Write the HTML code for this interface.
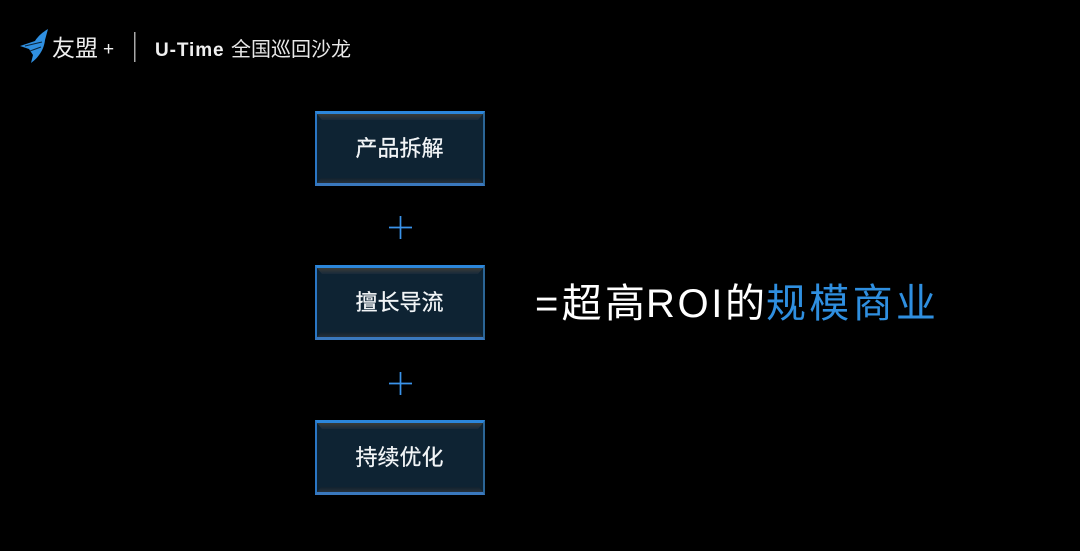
<!DOCTYPE html>
<html><head><meta charset="utf-8">
<style>
html,body{margin:0;padding:0;background:#000;}
#p{position:relative;width:1080px;height:551px;background:#000;overflow:hidden;font-family:"Liberation Sans","Noto Sans CJK SC",sans-serif;color:#fff;}
.t{position:absolute;white-space:nowrap;line-height:1;}
.m{top:284px;font-size:40px;letter-spacing:3.3px;color:#fff;}
.box{position:absolute;left:315px;width:170px;height:75px;box-sizing:border-box;background:#0e2333;border:2px solid #2a7fd0;border-top:3px solid #2c86da;border-bottom:3px solid #3a78bd;border-right-color:#2b6596;border-left-color:#2a76c4;}
.box:before{content:"";position:absolute;left:0;right:0;top:0;height:6px;background:linear-gradient(#3a3c38,#18293a);clip-path:polygon(0 0,100% 0,calc(100% - 5px) 100%,5px 100%);}
.box:after{content:"";position:absolute;left:0;right:0;bottom:0;height:5px;background:linear-gradient(#11222f,#26303a);clip-path:polygon(4px 0,calc(100% - 4px) 0,100% 100%,0 100%);}
.box span{position:absolute;left:0;right:0;top:22px;text-align:center;font-size:22px;line-height:26px;color:#f2f5f7;z-index:2;-webkit-text-stroke:.25px #f2f5f7;margin-left:-1px;}
</style></head><body>
<div id="p">
<svg style="position:absolute;left:0;top:0" width="1080" height="551">
<path d="M48 29 C43 32 38 36 35 41 L20 46 L29 49 L33 55 L31 63 C38 58 44 50 45 40Z" fill="#2f8fe0"/>
<path d="M25 46 L42 42 M30 51 L41 47" stroke="#0a2338" stroke-width="1" fill="none"/>
<rect x="134" y="32" width="1.5" height="30" fill="#a8a8a8"/>
<path d="M389 227.5H412M400.5 216V239" stroke="#3a93ea" stroke-width="1.7" fill="none"/>
<path d="M389 383.5H412M400.5 372V395" stroke="#3a93ea" stroke-width="1.7" fill="none"/>
</svg>
<div class="t" style="left:52px;top:37px;font-size:23px;color:#f0f0f0;">友盟</div>
<div class="t" style="left:103px;top:40px;font-size:19px;color:#f0f0f0;">+</div>
<div class="t" style="left:155px;top:41px;font-size:19px;letter-spacing:.9px;font-weight:bold;color:#f0f0f0;">U-Time</div>
<div class="t" style="left:231px;top:40px;font-size:20px;color:#e8e8e8;">全国巡回沙龙</div>
<div class="box" style="top:111px"><span>产品拆解</span></div>
<div class="box" style="top:265px"><span>擅长导流</span></div>
<div class="box" style="top:420px"><span>持续优化</span></div>
<div class="t m" style="left:535px;">=超高</div>
<div class="t m" style="left:646px;letter-spacing:2.6px;">ROI</div>
<div class="t m" style="left:725px;">的</div>
<div class="t m" style="left:766px;color:#2f8fe0;">规模商业</div>
</div>
</body></html>
